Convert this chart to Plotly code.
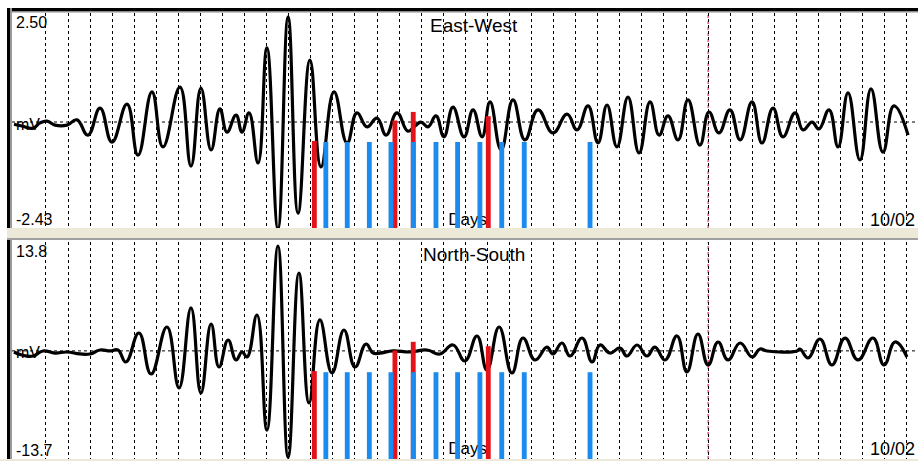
import plotly.graph_objects as go

W, H = 918, 461

# ---- East-West component: turning points of the record (day, mV) ----
ew_days = [-0.45, -0.09, 0.41, 0.73, 1.05, 1.41, 1.95, 2.40, 2.90, 3.45, 3.99, 4.67, 5.17,
           5.80, 6.30, 7.07, 7.57, 8.02, 8.48, 8.88, 9.20, 9.61, 9.88, 10.20, 10.61, 11.01,
           11.51, 11.97, 12.42, 12.96, 13.46, 14.05, 14.64, 15.09, 15.54, 16.00, 16.41, 16.90,
           17.40, 17.72, 17.99, 18.31, 18.67, 19.03, 19.44, 19.94, 20.35, 20.76, 21.12, 21.62,
           22.16, 22.70, 23.29, 23.97, 24.61, 25.06, 25.56, 26.01, 26.42, 26.87, 27.37, 27.87,
           28.37, 28.78, 29.18, 29.64, 30.09, 30.63, 31.04, 31.49, 31.99, 32.45, 32.99, 33.44,
           33.94, 34.39, 34.94, 35.30, 35.71, 36.02, 36.48, 36.89, 37.34, 37.88, 38.38, 38.92,
           39.42, 40.06]
ew_mv = [-0.05, -0.09, -0.14, -0.02, 0.02, -0.07, -0.07, 0.05, -0.30, 0.32, -0.46, 0.41, -0.76,
         0.69, -0.57, 0.80, -1.01, 0.78, -0.64, 0.30, -0.23, 0.16, -0.23, 0.21, -0.94, 1.70,
         -2.45, 2.41, -2.09, 1.42, -1.03, 0.69, -0.48, 0.21, -0.11, 0.09, -0.30, 0.21,
         -0.21, -0.09, 0.00, -0.11, 0.14, -0.34, 0.34, -0.34, 0.28, -0.34, 0.46, -0.64,
         0.51, -0.41, 0.28, -0.25, 0.18, -0.18, 0.37, -0.48, 0.39, -0.57, 0.57, -0.71,
         0.46, -0.30, 0.14, -0.41, 0.51, -0.53, 0.23, -0.25, 0.28, -0.41, 0.46, -0.48,
         0.32, -0.34, 0.21, -0.18, 0.00, -0.16, 0.28, -0.57, 0.67, -0.87, 0.76, -0.69,
         0.37, -0.30]

# ---- North-South component: turning points of the record (day, mV) ----
ns_days = [-0.45, -0.09, 0.41, 0.86, 1.41, 1.95, 2.54, 2.99, 3.45, 3.90, 4.26, 4.62, 5.21,
           5.76, 6.48, 7.03, 7.57, 8.02, 8.48, 8.84, 9.25, 9.61, 9.88, 10.11, 10.56, 11.01,
           11.51, 11.97, 12.46, 12.92, 13.41, 13.96, 14.50, 15.00, 15.50, 15.82, 16.13, 16.72,
           17.49, 18.26, 18.85, 19.44, 19.98, 20.53, 20.98, 21.53, 22.11, 22.61, 23.16, 23.70,
           23.97, 24.38, 24.74, 25.29, 25.74, 26.10, 26.55, 27.01, 27.32, 27.78, 28.23, 28.59,
           29.05, 29.59, 30.04, 30.54, 31.00, 31.45, 31.90, 32.45, 32.99, 33.35, 33.67, 35.03,
           35.16, 35.53, 36.07, 36.61, 37.20, 37.79, 38.47, 38.97, 39.47, 40.01]
ns_mv = [-0.14, -0.52, -0.65, -0.01, -0.27, -0.14, -0.39, -0.39, 0.11, -0.01, 0.11, -1.41, 2.27,
         -2.93, 3.03, -4.70, 5.44, -5.34, 3.41, -2.04, 1.38, -1.15, -0.14, -0.77, 4.55, -10.03,
         13.29, -13.50, 9.87, -6.60, 3.92, -2.80, 2.65, -2.04, 0.87, -0.27, -0.27, -0.01,
         -0.14, 0.11, -0.39, 0.75, -1.28, 1.89, -2.42, 3.03, -2.80, 1.63, -1.15, 0.49,
         -0.39, 1.00, -0.65, 1.63, -1.41, 0.75, -0.27, 0.37, -0.65, 0.75, -0.65, 0.49,
         -1.15, 1.89, -2.67, 2.14, -1.79, 1.13, -1.15, 1.00, -0.77, 0.24, -0.01, -0.01,
         0.24, -0.90, 1.51, -1.79, 1.63, -1.15, 1.63, -1.79, 1.13, -0.77]

# ---- event markers (day, relative level of the panel height) ----
blue_days = [13.68, 14.65, 15.65, 16.63, 17.64, 18.67, 19.65, 20.66, 21.65, 22.67, 25.65]
blue_level = [0.40, 0.40, 0.40, 0.40, 0.40, 0.40, 0.40, 0.40, 0.40, 0.40, 0.40]
red_days = [13.16, 16.81, 17.64, 21.04]
red_level = [0.405, 0.50, 0.54, 0.52]

# day grid and the highlighted day
grid_days = list(range(1, 41))
marked_day = 31

ew_range = [-2.43, 2.50]
ns_range = [-13.7, 13.8]
day_range = [-0.54, 40.51]

ew_labels = ["2.50", "mV", "-2.43", "East-West"]
ns_labels = ["13.8", "mV", "-13.7", "North-South"]
axis_name = "Days"
end_date = "10/02"

FONT = "Liberation Sans, Arial, sans-serif"
BLUE = "#1b8bef"
RED = "#e3121b"
BEIGE = "#ece9d8"


def px_x(p):
    return p / W


def px_y(p):
    return 1 - p / H


dom1 = [px_y(228), px_y(13)]
dom2 = [px_y(459), px_y(242)]

fig = go.Figure()

# waveforms
fig.add_trace(go.Scatter(x=ew_days, y=ew_mv, mode="lines", xaxis="x", yaxis="y",
                         line=dict(color="black", width=3.2, shape="spline", smoothing=1.3)))
fig.add_trace(go.Scatter(x=ns_days, y=ns_mv, mode="lines", xaxis="x2", yaxis="y2",
                         line=dict(color="black", width=3.2, shape="spline", smoothing=1.3)))

# axis caption beneath the event bars
fig.add_trace(go.Scatter(x=[20.1], y=[-2.27], mode="text", text=[axis_name], xaxis="x", yaxis="y",
                         textfont=dict(family=FONT, size=17, color="black")))
fig.add_trace(go.Scatter(x=[20.1], y=[-12.56], mode="text", text=[axis_name], xaxis="x2", yaxis="y2",
                         textfont=dict(family=FONT, size=17, color="black")))

# event bars on overlay axes (drawn above the waveform)
for ya in ["y3", "y4"]:
    xa = "x" if ya == "y3" else "x2"
    fig.add_trace(go.Bar(x=red_days, y=red_level, width=0.22, marker=dict(color=RED, line=dict(width=0)),
                         xaxis=xa, yaxis=ya))
    fig.add_trace(go.Bar(x=blue_days, y=blue_level, width=0.22, marker=dict(color=BLUE, line=dict(width=0)),
                         xaxis=xa, yaxis=ya))

xcommon = dict(range=day_range, domain=[px_x(12), 1], tickvals=grid_days, showticklabels=False,
               ticks="", showgrid=True, gridcolor="black", gridwidth=1, griddash="3px,3px",
               zeroline=False, showline=False, fixedrange=True)

fig.update_layout(
    width=W, height=H,
    margin=dict(l=0, r=0, t=0, b=0),
    paper_bgcolor="white", plot_bgcolor="white",
    showlegend=False, hovermode=False, barmode="overlay",
    xaxis=dict(anchor="y", **xcommon),
    xaxis2=dict(anchor="y2", matches="x", **xcommon),
    yaxis=dict(domain=dom1, range=ew_range, showgrid=False, zeroline=False, showticklabels=False,
               ticks="", fixedrange=True),
    yaxis2=dict(domain=dom2, range=ns_range, showgrid=False, zeroline=False, showticklabels=False,
                ticks="", fixedrange=True),
    yaxis3=dict(overlaying="y", anchor="x", range=[0, 1], showgrid=False, zeroline=False,
                showticklabels=False, ticks="", fixedrange=True),
    yaxis4=dict(overlaying="y2", anchor="x2", range=[0, 1], showgrid=False, zeroline=False,
                showticklabels=False, ticks="", fixedrange=True),
)

shapes = []
# highlighted day grid line and zero lines
for yref in ["y", "y2"]:
    xref = "x" if yref == "y" else "x2"
    shapes.append(dict(type="line", xref=xref, yref=yref + " domain", x0=marked_day, x1=marked_day,
                       y0=0, y1=1, line=dict(color="#d0104a", width=1, dash="3px,3px"), layer="below"))
    shapes.append(dict(type="line", xref="paper", yref=yref, x0=px_x(12), x1=1, y0=0, y1=0,
                       line=dict(color="black", width=1, dash="3px,3px"), layer="below"))

# window frame: top bar, left edges, separator band
shapes.append(dict(type="rect", xref="paper", yref="paper", x0=px_x(7), x1=1, y0=px_y(11), y1=px_y(8),
                   fillcolor="black", line=dict(width=0), layer="above"))
shapes.append(dict(type="rect", xref="paper", yref="paper", x0=px_x(10), x1=1, y0=px_y(12.5), y1=px_y(11),
                   fillcolor="#8c8c8c", line=dict(width=0), layer="above"))
for top, bottom in [(8, 228), (239, 459)]:
    shapes.append(dict(type="rect", xref="paper", yref="paper", x0=px_x(7), x1=px_x(10),
                       y0=px_y(bottom), y1=px_y(top), fillcolor="black", line=dict(width=0), layer="above"))
    shapes.append(dict(type="rect", xref="paper", yref="paper", x0=px_x(10), x1=px_x(12),
                       y0=px_y(bottom), y1=px_y(top), fillcolor="#9a9a9a", line=dict(width=0), layer="above"))
shapes.append(dict(type="rect", xref="paper", yref="paper", x0=px_x(7), x1=1, y0=px_y(238), y1=px_y(228),
                   fillcolor=BEIGE, line=dict(width=0), layer="above"))
shapes.append(dict(type="rect", xref="paper", yref="paper", x0=px_x(7), x1=1, y0=px_y(240), y1=px_y(238),
                   fillcolor="#a0a0a0", line=dict(width=0), layer="above"))
shapes.append(dict(type="rect", xref="paper", yref="paper", x0=0, x1=1, y0=0, y1=px_y(459),
                   fillcolor=BEIGE, line=dict(width=0), layer="above"))
fig.update_layout(shapes=shapes)

ann = []
def label(text, x, y, anchor="left", size=16):
    ann.append(dict(text=text, xref="paper", yref="paper", x=px_x(x), y=px_y(y), xanchor=anchor,
                    yanchor="middle", showarrow=False, font=dict(family=FONT, size=size, color="black")))

for labels, (ytop, ymid, ybot, ytitle, ydate) in [(ew_labels, (22, 124, 220, 25, 220)),
                                                  (ns_labels, (252, 352, 450, 254, 449))]:
    label(labels[0], 14, ytop)
    label(labels[1], 14, ymid)
    label(labels[2], 14, ybot)
    label(labels[3], 474, ytitle, anchor="center", size=19)
    label(end_date, 917, ydate, anchor="right", size=18)
fig.update_layout(annotations=ann)

fig.write_html("out.html")
